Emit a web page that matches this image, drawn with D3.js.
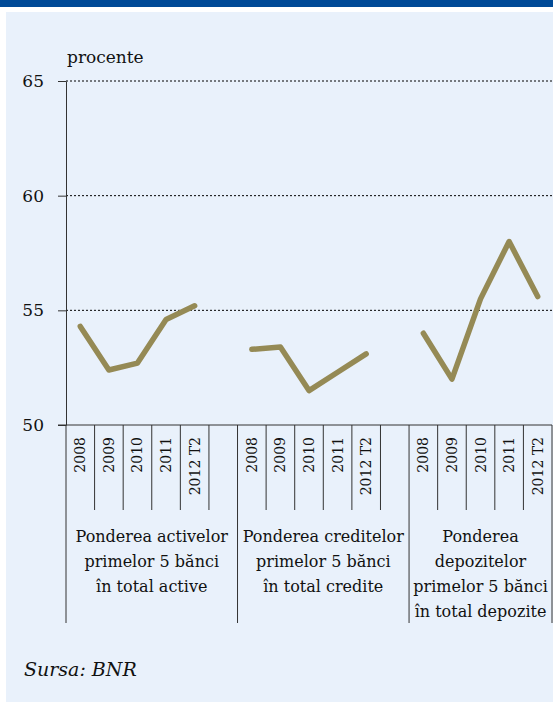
<!DOCTYPE html>
<html>
<head>
<meta charset="utf-8">
<script src="https://cdn.jsdelivr.net/npm/d3@7"></script>
<style>
    body { margin: 0; background: #fff; }
</style>
</head>
<body>
<div id="chart"></div>
<script>
// data
const years = ["2008", "2009", "2010", "2011", "2012 T2"];
const groupLabels = [
    ["Ponderea activelor", "primelor 5 bănci", "în total active"],
    ["Ponderea creditelor", "primelor 5 bănci", "în total credite"],
    ["Ponderea", "depozitelor", "primelor 5 bănci", "în total depozite"]
];
const activeShare = [54.3, 52.4, 52.7, 54.6, 55.2];
const creditShare = [53.3, 53.4, 51.5, 52.3, 53.1];
const depositShare = [54.0, 52.0, 55.5, 58.0, 55.6];
const yTicks = [50, 55, 60, 65];
const yLabel = "procente";
const source = "Sursa: BNR";

const series = [activeShare, creditShare, depositShare];
const FONT = "DejaVu Serif";

const width = 553, height = 702;
const svg = d3.select("#chart").append("svg")
    .attr("width", width)
    .attr("height", height)
    .attr("font-family", FONT);

// background: blue band + light panel
svg.append("rect").attr("x", 0).attr("y", 0).attr("width", width).attr("height", 7)
    .attr("fill", "#004a97");
svg.append("rect").attr("x", 6).attr("y", 12).attr("width", width - 6).attr("height", height - 12)
    .attr("fill", "#e9f1fb");

// slots: 5 years per group, one empty slot between groups
const slots = [];
groupLabels.forEach((g, gi) => {
    years.forEach(yr => slots.push(gi + "|" + yr));
    if (gi < groupLabels.length - 1) slots.push(gi + "|blank");
});

const x = d3.scaleBand().domain(slots).range([66, 552]).padding(0);
const y = d3.scaleLinear().domain([50, 65]).range([425, 81]);

// dotted grid
svg.append("g")
    .selectAll("line")
    .data(yTicks.filter(t => t > 50))
    .join("line")
    .attr("x1", 66).attr("x2", 552)
    .attr("y1", d => y(d)).attr("y2", d => y(d))
    .attr("stroke", "#000")
    .attr("stroke-width", 1)
    .attr("stroke-dasharray", "2,2");

// y axis
const yAxis = svg.append("g")
    .attr("transform", "translate(66,0)")
    .call(d3.axisLeft(y).tickValues(yTicks).tickSizeInner(8).tickSizeOuter(0).tickPadding(14))
    .attr("font-family", FONT)
    .attr("font-size", 17);
yAxis.select(".domain").attr("stroke", "#333");
yAxis.selectAll(".tick line").attr("stroke", "#333");
yAxis.selectAll("text").attr("fill", "#111");

// horizontal axis line at 50
svg.append("line")
    .attr("x1", 58).attr("x2", 552)
    .attr("y1", y(50)).attr("y2", y(50))
    .attr("stroke", "#333");

// category tick marks
const bounds = [];
slots.forEach((s, i) => {
    const left = x(s);
    const isGroupStart = i === 0 || slots[i - 1].endsWith("blank");
    bounds.push({ x: left, long: isGroupStart });
});
bounds.push({ x: x.range()[1], long: true });

svg.append("g")
    .selectAll("line")
    .data(bounds)
    .join("line")
    .attr("x1", d => d.x).attr("x2", d => d.x)
    .attr("y1", y(50))
    .attr("y2", d => d.long ? 623 : 510)
    .attr("stroke", "#333");

// year labels (rotated)
svg.append("g")
    .attr("font-family", FONT)
    .attr("font-size", 14)
    .selectAll("text")
    .data(slots.filter(s => !s.endsWith("blank")))
    .join("text")
    .attr("transform", d => `translate(${x(d) + x.bandwidth() / 2 + 5},437) rotate(-90)`)
    .attr("text-anchor", "end")
    .attr("fill", "#111")
    .text(d => d.split("|")[1]);

// group labels
groupLabels.forEach((lines, gi) => {
    const first = x(gi + "|" + years[0]);
    const last = x(gi + "|" + years[years.length - 1]) + x.bandwidth();
    const end = gi < groupLabels.length - 1 ? x(gi + "|blank") + x.bandwidth() : last;
    const cx = (first + end) / 2;
    svg.append("text")
        .attr("x", cx)
        .attr("y", 542)
        .attr("text-anchor", "middle")
        .attr("fill", "#111")
        .attr("font-family", FONT)
        .attr("font-size", 16)
        .selectAll("tspan")
        .data(lines)
        .join("tspan")
        .attr("x", cx)
        .attr("dy", (d, i) => i === 0 ? 0 : 25)
        .text(d => d);
});

// lines
const line = d3.line()
    .x(d => x(d.key) + x.bandwidth() / 2)
    .y(d => y(d.value));

series.forEach((vals, gi) => {
    const pts = vals.map((v, i) => ({ key: gi + "|" + years[i], value: v }));
    svg.append("path")
        .datum(pts)
        .attr("d", line)
        .attr("fill", "none")
        .attr("stroke", "#958a55")
        .attr("stroke-width", 5.5)
        .attr("stroke-linecap", "round")
        .attr("stroke-linejoin", "round");
});

// unit label and source
svg.append("text")
    .attr("x", 67).attr("y", 63)
    .attr("fill", "#111")
    .attr("font-family", FONT)
    .attr("font-size", 17)
    .text(yLabel);

svg.append("text")
    .attr("x", 24).attr("y", 676)
    .attr("fill", "#111")
    .attr("font-family", FONT)
    .attr("font-size", 19)
    .attr("font-style", "italic")
    .text(source);
</script>
</body>
</html>
